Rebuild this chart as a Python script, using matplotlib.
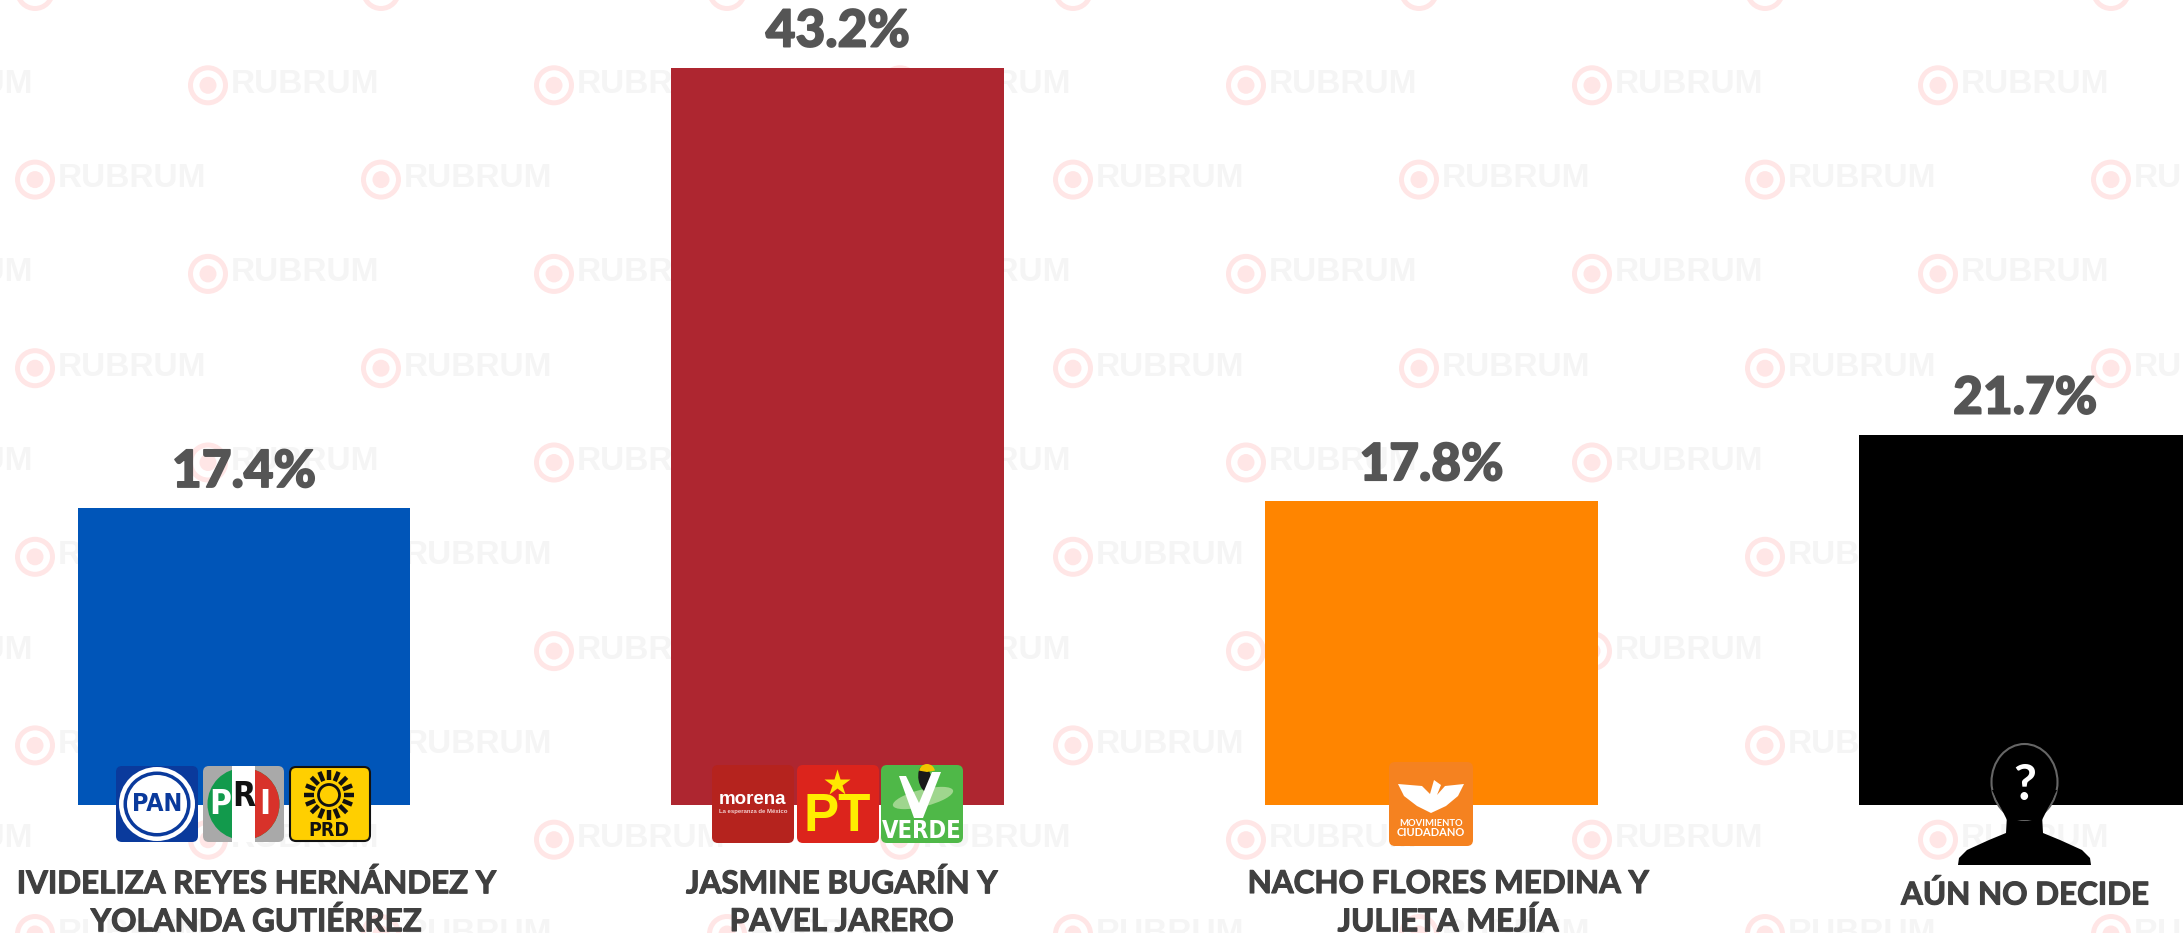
import matplotlib
matplotlib.use("Agg")
import matplotlib.pyplot as plt
import matplotlib.patheffects as pe
import numpy as np
from matplotlib.patches import Circle, FancyBboxPatch, Polygon, Rectangle, Wedge, Ellipse

# Data
candidates = ["IVIDELIZA REYES HERNÁNDEZ Y\nYOLANDA GUTIÉRREZ",
              "JASMINE BUGARÍN Y\nPAVEL JARERO",
              "NACHO FLORES MEDINA Y\nJULIETA MEJÍA",
              "AÚN NO DECIDE"]
values = [17.4, 43.2, 17.8, 21.7]
bar_colors = ["#0055b8", "#ae2630", "#ff8500", "#000000"]
value_labels = ["17.4%", "43.2%", "17.8%", "21.7%"]

W, H = 2183, 933
plt.rcParams["font.family"] = ["Lato", "DejaVu Sans"]

fig = plt.figure(figsize=(W / 100, H / 100), dpi=100, facecolor="white")

# Pixel layer under the bars, for the watermark
bg = fig.add_axes([0, 0, 1, 1], zorder=0)
bg.set_xlim(0, W)
bg.set_ylim(H, 0)
bg.axis("off")

# Watermark grid
for row, cy in enumerate(np.arange(-9, 960, 94.3)):
    first = 35 if row % 2 == 0 else 208
    for cx in np.arange(first - 346, W + 100, 346):
        bg.add_patch(Circle((cx, cy), 20, fc="#ffe6e6", ec="none"))
        bg.add_patch(Circle((cx, cy), 15, fc="white", ec="none"))
        bg.add_patch(Circle((cx, cy), 8.5, fc="#ffe6e6", ec="none"))
        bg.text(cx + 23, cy - 1, "RUBRUM", fontsize=24, fontweight="bold", color="#f5f5f5",
                ha="left", va="center", family="Liberation Sans")

# Bars
ax = fig.add_axes([0, 0, 1, 1], zorder=1)
ax.patch.set_alpha(0)
x = np.arange(len(values))
ax.bar(x, values, width=0.56, color=bar_colors)
ax.set_xlim(-244 / 593.7, (W - 244) / 593.7)
ax.set_ylim(-(H - 805) / 17.07, 805 / 17.07)
ax.axis("off")
for i in x:
    ax.annotate(value_labels[i], (i, values[i]), xytext=(0, 25.5), textcoords="offset points",
                ha="center", va="center", fontsize=37, fontweight="black", color="#555555",
                path_effects=[pe.withStroke(linewidth=1.2, foreground="#555555")])

# Pixel layer on top, for logos and names
fg = fig.add_axes([0, 0, 1, 1], zorder=2)
fg.patch.set_alpha(0)
fg.set_xlim(0, W)
fg.set_ylim(H, 0)
fg.axis("off")


def box(x0, y0, x1, y1, color, ec="none", lw=0):
    p = FancyBboxPatch((x0 + 6, y0 + 6), x1 - x0 - 12, y1 - y0 - 12, boxstyle="round,pad=6",
                       fc=color, ec=ec, lw=lw)
    fg.add_patch(p)
    return p


def narrow(cx, cy, s, size, color):
    fg.text(cx, cy, s, fontsize=size, color=color, ha="center", va="center",
            family="DejaVu Sans", stretch="condensed", fontweight="bold")


# PAN
box(116, 766, 198, 842, "#0a3a9c")
fg.add_patch(Ellipse((157, 804), 76, 74, fc="white", ec="none"))
fg.add_patch(Ellipse((157, 804), 67, 65, fc="#0a3a9c", ec="none"))
fg.add_patch(Ellipse((157, 804), 60, 58, fc="white", ec="none"))
narrow(157, 804, "PAN", 18, "#0a3a9c")

# PRI
box(203, 766, 284, 842, "#a9a9a9")
fg.add_patch(Ellipse((243.5, 804), 72, 72, fc="#129a4c", ec="none"))
fg.add_patch(Wedge((243.5, 804), 36, -90, 90, fc="#d8322a", ec="none"))
fg.add_patch(Rectangle((232, 766), 23, 76, fc="white", ec="none"))
narrow(220.5, 805, "P", 24, "white")
narrow(244, 797, "R", 24, "#111111")
narrow(265, 805, "I", 24, "white")

# PRD
box(290, 767, 370, 841, "#ffcf00", ec="#111111", lw=1.5)
for ang in np.deg2rad(np.arange(0, 360, 22.5)):
    fg.plot([329 + 15 * np.cos(ang), 329 + 25 * np.cos(ang)],
            [795 + 15 * np.sin(ang), 795 + 25 * np.sin(ang)], color="#111111", lw=3.2,
            solid_capstyle="butt")
fg.add_patch(Circle((329, 795), 10.5, fc="#ffcf00", ec="#111111", lw=2))
narrow(329, 831, "PRD", 14, "#111111")

# Morena
box(712, 765, 794, 843, "#b5231e")
fg.text(753, 800, "morena", fontsize=13.5, fontweight="bold", color="white", ha="center", va="center",
        family="Liberation Sans")
fg.text(753, 812, "La esperanza de México", fontsize=4.3, fontweight="bold", color="#f3d0d0",
        ha="center", va="center", family="Liberation Sans")

# PT
box(797, 765, 879, 843, "#dc241c")
fg.plot([837], [783], marker="*", ms=20, color="#ffe600", mec="none")
fg.text(837, 817, "PT", fontsize=38, fontweight="bold", color="#ffee00", ha="center", va="center",
        family="Liberation Sans")

# Verde
box(881, 765, 963, 843, "#4fb848")
fg.add_patch(Ellipse((923, 798), 62, 17, angle=-14, fc="#9fd68e", ec="none"))
fg.add_patch(Ellipse((925, 779), 13, 26, angle=-10, fc="#1a1a1a", ec="none"))
fg.add_patch(Wedge((927, 772), 8, 190, 350, fc="#f2c500", ec="none"))
fg.add_patch(Polygon([(899, 776), (906, 776), (919, 803), (932, 772), (941, 772), (923, 818), (914, 818)],
                     fc="white", ec="none"))
narrow(922, 831, "VERDE", 17, "white")

# Movimiento Ciudadano
box(1389, 762, 1473, 846, "#f58220")
fg.add_patch(Polygon([(1398, 784), (1422, 786), (1430, 794), (1434, 780), (1441, 785), (1437, 795),
                      (1445, 786), (1464, 784), (1458, 796), (1446, 806), (1431, 813), (1417, 806), (1404, 796)],
                     fc="white", ec="none"))
fg.text(1431, 823, "MOVIMIENTO", fontsize=6.8, fontweight="bold", color="white", ha="center", va="center")
fg.text(1431, 832, "CIUDADANO", fontsize=8, fontweight="bold", color="white", ha="center", va="center")

# Unknown person
fg.add_patch(Polygon([(2007, 815), (2042, 815), (2043, 833), (2060, 840), (2082, 850), (2090, 858), (2091, 865),
                      (1958, 865), (1959, 858), (1967, 850), (1989, 840), (2006, 833)], fc="black", ec="none"))
fg.add_patch(Ellipse((2024.5, 782), 66, 76, fc="black", ec="#666666", lw=1.5))
fg.add_patch(Polygon([(1992, 790), (2057, 790), (2042, 820), (2007, 820)], fc="black", ec="none"))
fg.text(2024.5, 786, "?", fontsize=36, fontweight="bold", color="white", ha="center", va="center")

# Candidate names
name_x = [256, 841.5, 1448, 2025]
name_y = [884, 884, 884, 895]
for nx, ny, name in zip(name_x, name_y, candidates):
    for k, line in enumerate(name.split("\n")):
        fg.text(nx, ny + 38 * k, line, fontsize=22.6, fontweight="bold", color="#404040",
                ha="center", va="center",
                path_effects=[pe.withStroke(linewidth=0.8, foreground="#404040")])

fig.savefig("out.png", dpi=100, facecolor="white")
